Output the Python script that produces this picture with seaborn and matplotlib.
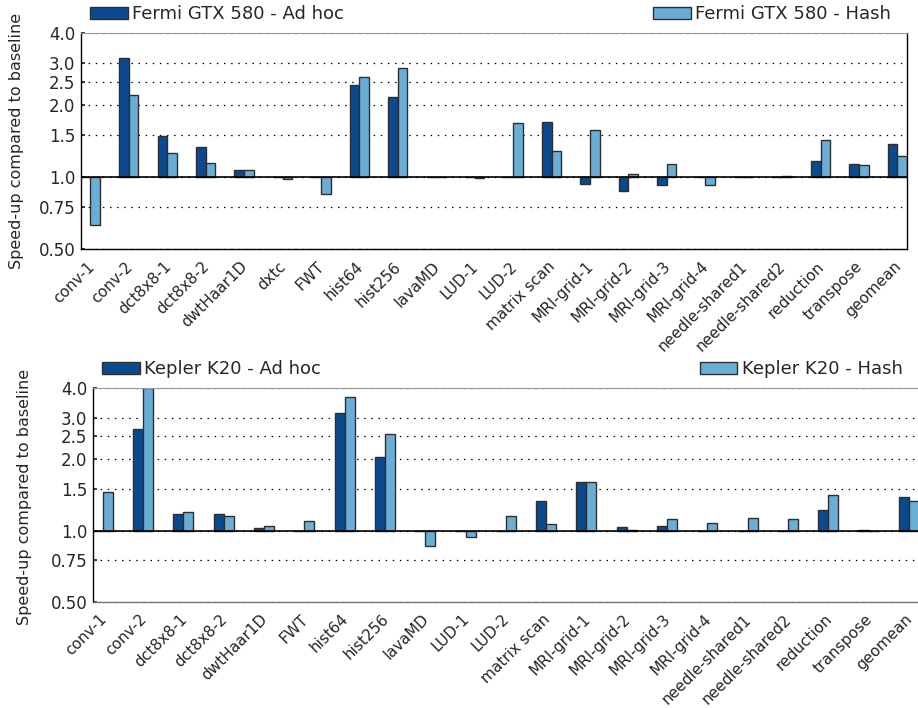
import numpy as np
import pandas as pd
import matplotlib
matplotlib.use("Agg")
import matplotlib.pyplot as plt
import matplotlib.transforms as mtransforms
from matplotlib.patches import Patch
import seaborn as sns

fermi_benchmarks = ["conv-1", "conv-2", "dct8x8-1", "dct8x8-2", "dwtHaar1D", "dxtc", "FWT",
                    "hist64", "hist256", "lavaMD", "LUD-1", "LUD-2", "matrix scan",
                    "MRI-grid-1", "MRI-grid-2", "MRI-grid-3", "MRI-grid-4",
                    "needle-shared1", "needle-shared2", "reduction", "transpose", "geomean"]
fermi_adhoc = [1.0, 3.14, 1.49, 1.34, 1.07, 1.0, 1.0, 2.43, 2.17, 1.0, 1.0, 1.0, 1.71,
               0.94, 0.88, 0.93, 1.0, 1.0, 1.0, 1.17, 1.14, 1.38]
fermi_hash = [0.63, 2.20, 1.26, 1.15, 1.07, 0.98, 0.85, 2.62, 2.87, 1.0, 0.99, 1.69, 1.29,
              1.57, 1.03, 1.14, 0.93, 1.005, 1.015, 1.43, 1.13, 1.23]

kepler_benchmarks = ["conv-1", "conv-2", "dct8x8-1", "dct8x8-2", "dwtHaar1D", "FWT",
                     "hist64", "hist256", "lavaMD", "LUD-1", "LUD-2", "matrix scan",
                     "MRI-grid-1", "MRI-grid-2", "MRI-grid-3", "MRI-grid-4",
                     "needle-shared1", "needle-shared2", "reduction", "transpose", "geomean"]
kepler_adhoc = [1.0, 2.69, 1.18, 1.17, 1.02, 1.0, 3.15, 2.05, 1.0, 1.0, 1.0, 1.33,
                1.61, 1.03, 1.05, 1.0, 1.0, 1.0, 1.22, 1.01, 1.38]
kepler_hash = [1.46, 4.0, 1.20, 1.15, 1.04, 1.10, 3.68, 2.55, 0.86, 0.94, 1.15, 1.07,
               1.61, 1.01, 1.12, 1.08, 1.13, 1.12, 1.41, 1.0, 1.33]

yticks = [0.5, 0.75, 1.0, 1.5, 2.0, 2.5, 3.0, 4.0]
ytick_labels = ["0.50", "0.75", "1.0", "1.5", "2.0", "2.5", "3.0", "4.0"]

dark = "#0b4a8f"
light = "#6aaed6"
edge = "#2e2e2e"

sns.set_theme(style="white")
plt.rcParams["font.family"] = ["DejaVu Sans"]


def panel(ax, benchmarks, adhoc, hash_, gpu):
    lab_a = gpu + " - Ad hoc"
    lab_h = gpu + " - Hash"
    df = pd.DataFrame({
        "bench": benchmarks * 2,
        "variant": [lab_a] * len(benchmarks) + [lab_h] * len(benchmarks),
        "speedup": list(adhoc) + list(hash_),
    })
    # bars grow from the 1.0 baseline
    df["delta"] = df["speedup"] - 1.0
    sns.barplot(data=df, x="bench", y="delta", hue="variant", order=benchmarks,
                hue_order=[lab_a, lab_h], palette=[dark, light], saturation=1, width=0.5,
                bottom=1.0, edgecolor=edge, linewidth=1.0, ax=ax, legend=False)
    ax.set_yscale("log", base=2)
    ax.set_ylim(0.5, 4.0)
    ax.set_xlim(-0.25, len(benchmarks) - 0.75)
    ax.set_yticks(yticks)
    ax.set_yticklabels(ytick_labels)
    ax.yaxis.set_minor_locator(matplotlib.ticker.NullLocator())
    ax.set_xlabel("")
    ax.set_ylabel("Speed-up compared to baseline", fontsize=11.5)
    for y in yticks:
        ax.axhline(y, color="black", lw=0.9, ls=(0, (1.2, 4.5)), zorder=0.5)
    ax.axhline(1.0, color="black", lw=1.2, zorder=3)
    ax.tick_params(axis="y", labelsize=12, length=3, left=True, direction="in", pad=4)
    ax.tick_params(axis="x", labelsize=11, length=0, pad=7)
    shift = mtransforms.ScaledTranslation(-4 / 100, 0, ax.figure.dpi_scale_trans)
    for lbl in ax.get_xticklabels():
        lbl.set_rotation(45)
        lbl.set_ha("right")
        lbl.set_rotation_mode("anchor")
        lbl.set_transform(lbl.get_transform() + shift)
    for side in ["left", "right", "bottom"]:
        ax.spines[side].set_color("black")
        ax.spines[side].set_linewidth(1.0)
    ax.spines["top"].set_color("#999999")
    ax.spines["top"].set_linewidth(0.8)

    h_a = Patch(facecolor=dark, edgecolor=edge, label=lab_a)
    h_h = Patch(facecolor=light, edgecolor=edge, label=lab_h)
    leg_kw = dict(frameon=False, fontsize=13, handlelength=2.1, handleheight=0.65,
                  handletextpad=0.25, borderpad=0.4, borderaxespad=0.1)
    leg1 = ax.legend(handles=[h_a], loc="lower left", bbox_to_anchor=(0.0, 1.005), **leg_kw)
    ax.add_artist(leg1)
    ax.legend(handles=[h_h], loc="lower right", bbox_to_anchor=(0.9915, 1.005), **leg_kw)


fig = plt.figure(figsize=(9.18, 7.08), dpi=100)
ax1 = fig.add_axes([0.088, 0.648, 0.900, 0.305])
ax2 = fig.add_axes([0.101, 0.150, 0.900, 0.302])

panel(ax1, fermi_benchmarks, fermi_adhoc, fermi_hash, "Fermi GTX 580")
panel(ax2, kepler_benchmarks, kepler_adhoc, kepler_hash, "Kepler K20")
ax2.spines["right"].set_visible(False)
ax2.spines["bottom"].set_color("#777777")
ax1.yaxis.set_label_coords(-0.069, 0.5)
ax2.yaxis.set_label_coords(-0.074, 0.49)

fig.savefig("out.png", dpi=100)
